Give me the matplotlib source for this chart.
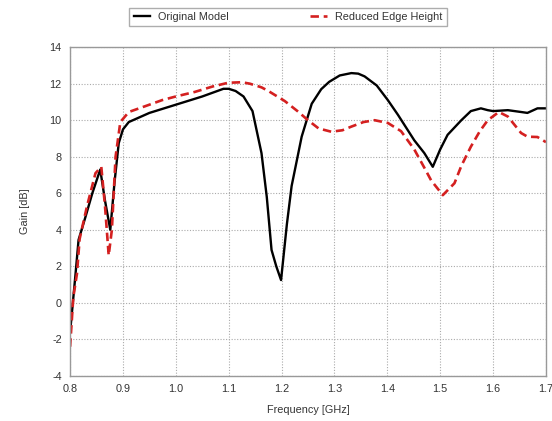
import matplotlib.pyplot as plt

# Original model
freq_orig = [0.800, 0.810, 0.816, 0.829, 0.842, 0.857, 0.866, 0.876, 0.884, 0.892,
             0.900, 0.911, 0.950, 1.000, 1.050, 1.090, 1.100, 1.113, 1.128, 1.145,
             1.162, 1.172, 1.181, 1.190, 1.199, 1.210, 1.219, 1.238, 1.257, 1.275,
             1.290, 1.310, 1.332, 1.345, 1.357, 1.380, 1.401, 1.420, 1.451, 1.470,
             1.486, 1.500, 1.514, 1.540, 1.558, 1.577, 1.590, 1.600, 1.628, 1.653,
             1.665, 1.684, 1.700]
gain_orig = [-1.6, 1.5, 3.45, 4.7, 6.0, 7.3, 5.6, 4.0, 6.6, 8.75,
             9.5, 9.9, 10.4, 10.85, 11.3, 11.72, 11.72, 11.6, 11.3, 10.5,
             8.2, 5.8, 2.9, 2.0, 1.25, 4.3, 6.4, 9.1, 10.9, 11.7,
             12.1, 12.45, 12.58, 12.55, 12.4, 11.9, 11.1, 10.3, 8.9, 8.2,
             7.45, 8.4, 9.2, 10.0, 10.5, 10.65, 10.55, 10.5, 10.55, 10.45,
             10.4, 10.65, 10.65]

# Reduced edge height
freq_red = [0.800, 0.806, 0.813, 0.818, 0.832, 0.848, 0.859, 0.866, 0.873, 0.879,
            0.886, 0.895, 0.911, 0.950, 0.974, 1.000, 1.036, 1.070, 1.099, 1.125,
            1.140, 1.162, 1.175, 1.206, 1.230, 1.250, 1.270, 1.294, 1.315, 1.332,
            1.355, 1.376, 1.401, 1.426, 1.451, 1.470, 1.483, 1.505, 1.527, 1.540,
            1.558, 1.575, 1.590, 1.611, 1.628, 1.653, 1.665, 1.684, 1.700]
gain_red = [-2.4, 0.3, 1.6, 3.5, 5.3, 7.1, 7.45, 5.3, 2.6, 4.0,
            8.0, 9.9, 10.45, 10.85, 11.1, 11.3, 11.55, 11.85, 12.05, 12.08,
            12.0, 11.8, 11.6, 11.05, 10.5, 10.0, 9.55, 9.37, 9.45, 9.65,
            9.9, 10.0, 9.85, 9.4, 8.4, 7.4, 6.7, 5.9, 6.55, 7.5,
            8.55, 9.4, 10.0, 10.45, 10.2, 9.3, 9.1, 9.08, 8.8]

x_ticks = [0.8, 0.9, 1.0, 1.1, 1.2, 1.3, 1.4, 1.5, 1.6, 1.7]
y_ticks = [-4, -2, 0, 2, 4, 6, 8, 10, 12, 14]

plt.rcParams['font.family'] = ['Liberation Sans', 'DejaVu Sans']
plt.rcParams['axes.unicode_minus'] = False
txt = '#333333'

fig = plt.figure(figsize=(5.52, 4.21), dpi=100)
ax = fig.add_axes([0.127, 0.107, 0.862, 0.781])

ax.plot(freq_orig, gain_orig, color='black', lw=1.7, label='Original Model')
ax.plot(freq_red, gain_red, color='#d42020', lw=1.9, ls=(0, (3.2, 1.8)),
        label='Reduced Edge Height')

ax.set_xlim(0.8, 1.7)
ax.set_ylim(-4, 14)
ax.set_xticks(x_ticks)
ax.set_xticklabels(['%.1f' % v for v in x_ticks])
ax.set_yticks(y_ticks)
ax.set_yticklabels([str(v) for v in y_ticks])
ax.tick_params(length=0, labelsize=7.8, colors=txt, pad=6)
ax.grid(True, color='#aaaaaa', ls=(0, (1, 1.5)), lw=0.8)
for s in ax.spines.values():
    s.set_color('#999999')
    s.set_linewidth(1.0)

ax.set_xlabel('Frequency [GHz]', fontsize=7.8, color=txt, labelpad=8)
ax.set_ylabel('Gain [dB]', fontsize=7.8, color=txt, labelpad=14)

fig.legend(loc='upper center', bbox_to_anchor=(0.522, 0.995), ncol=2,
           fontsize=7.8, handlelength=1.5, columnspacing=7.5, frameon=True,
           fancybox=False, edgecolor='#999999', borderpad=0.4,
           labelcolor=txt)

fig.savefig('out.png', dpi=100)
